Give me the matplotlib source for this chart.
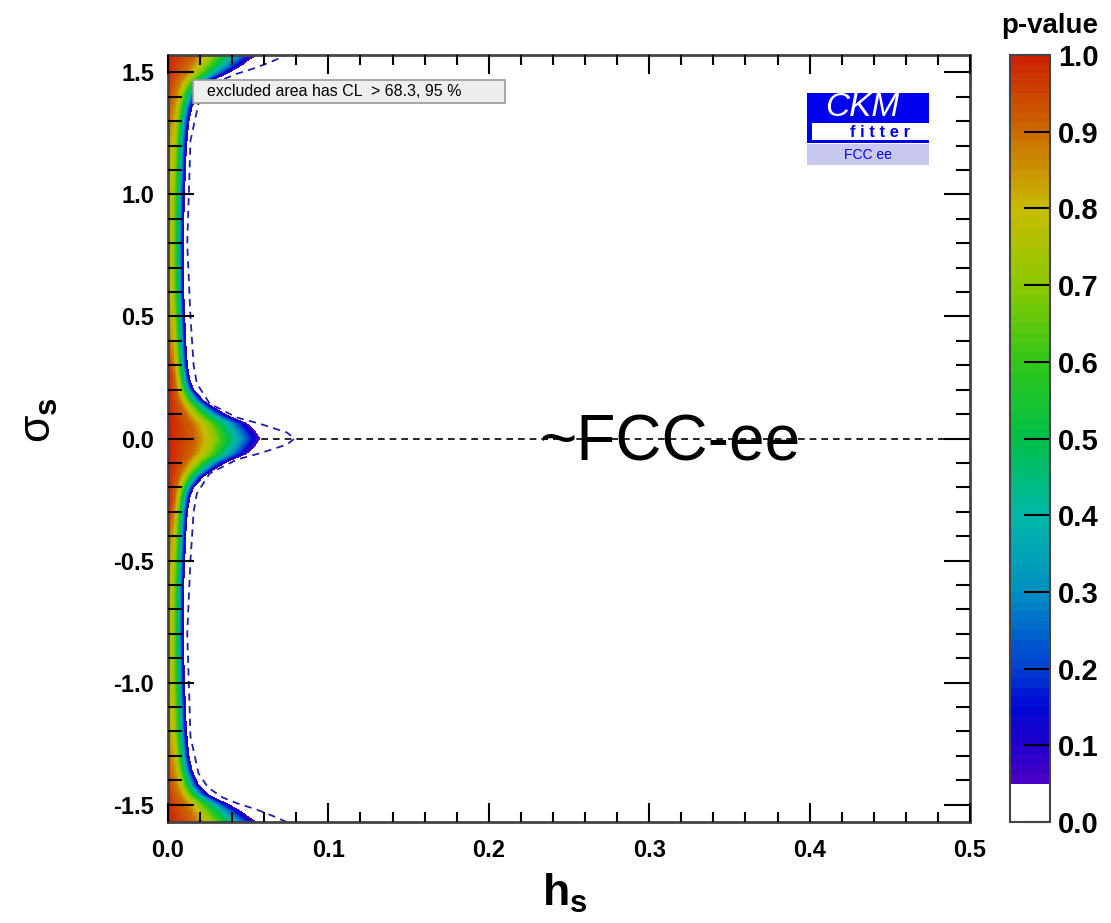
import numpy as np
import matplotlib
matplotlib.use("Agg")
import matplotlib.pyplot as plt
from matplotlib.colors import LinearSegmentedColormap, ListedColormap, BoundaryNorm
from matplotlib.patches import Rectangle

plt.rcParams['font.family'] = ['Liberation Sans', 'DejaVu Sans']
plt.rcParams['axes.unicode_minus'] = False
plt.rcParams['mathtext.fontset'] = 'custom'
plt.rcParams['mathtext.rm'] = 'Liberation Sans'
plt.rcParams['mathtext.bf'] = 'Liberation Sans:bold'
plt.rcParams['mathtext.it'] = 'Liberation Sans:italic'

# |sigma_s| where the edge of the allowed band was read (symmetric in sigma_s)
sig_edge = [0.0, 0.03, 0.061, 0.094, 0.125, 0.155, 0.2, 0.237, 0.3, 0.4, 0.6,
            0.8, 1.0, 1.2, 1.3, 1.36, 1.42, 1.46, 1.5, 1.53, 1.55, 1.571]
# h_s of the p = 0.05 edge
h_edge = [0.057, 0.054, 0.049, 0.037, 0.029, 0.022, 0.016, 0.0137, 0.012, 0.011,
          0.0098, 0.0096, 0.0102, 0.0115, 0.013, 0.015, 0.019, 0.025, 0.038,
          0.046, 0.050, 0.055]
# p-value at h_s = 0
sig_p0 = [0.0, 0.25, 0.4, 0.6, 0.9, 1.2, 1.4, 1.571]
p_at_zero = [1.0, 1.0, 0.9, 0.82, 0.8, 0.85, 0.95, 1.0]
# p-value profile across the band (fraction of edge width -> fraction of range)
prof_r = [0.0, 0.3, 0.5, 0.7, 0.85, 1.0, 1.5]
prof_g = [1.0, 0.9, 0.7, 0.42, 0.2, 0.0, -0.4]

# dashed contour (h_s vs |sigma_s|)
sig_dash = [0.0, 0.025, 0.061, 0.086, 0.143, 0.225, 0.3, 0.5, 0.8, 1.0, 1.22,
            1.371, 1.43, 1.47, 1.494, 1.519, 1.545, 1.571]
h_dash = [0.079, 0.074, 0.057, 0.043, 0.026, 0.018, 0.016, 0.014, 0.012, 0.013,
          0.014, 0.019, 0.025, 0.034, 0.043, 0.055, 0.065, 0.074]

x_major = [0.0, 0.1, 0.2, 0.3, 0.4, 0.5]
y_major = [-1.5, -1.0, -0.5, 0.0, 0.5, 1.0, 1.5]
cbar_ticks = [0.0, 0.1, 0.2, 0.3, 0.4, 0.5, 0.6, 0.7, 0.8, 0.9, 1.0]

# palette like the ROOT one in the reference
pal_pos = [0.05, 0.1, 0.15, 0.2, 0.3, 0.4, 0.5, 0.6, 0.7, 0.8, 0.9, 1.0]
pal_col = ['#4a00c4', '#2000cc', '#0008d4', '#0040d0', '#0090c4', '#00b8a8',
           '#00c048', '#30c818', '#8cc800', '#c8bc00', '#cc6c00', '#cc2000']

base = LinearSegmentedColormap.from_list(
    'ckm', [((p - 0.05) / 0.95, c) for p, c in zip(pal_pos, pal_col)])
levels = [0.0] + list(np.arange(0.05, 1.0001, 0.0125))
# below p = 0.05 nothing is painted
band_cols = [(1, 1, 1, 0)] + [base((0.5 * (levels[i] + levels[i + 1]) - 0.05) / 0.95)
                              for i in range(1, len(levels) - 1)]
cmap = ListedColormap(band_cols)
norm = BoundaryNorm(levels, cmap.N)

# build the p-value field from the read values
h = np.linspace(0, 0.5, 1201)
s = np.linspace(-np.pi / 2, np.pi / 2, 901)
H, S = np.meshgrid(h, s)
W = np.interp(np.abs(S), sig_edge, h_edge)
P0 = np.interp(np.abs(S), sig_p0, p_at_zero)
G = np.interp(H / W, prof_r, prof_g, right=-1.0)
P = np.clip(0.05 + (P0 - 0.05) * G, 0.0, 1.0)

fig = plt.figure(figsize=(11.11, 9.23), dpi=100)
ax = fig.add_axes([0.1512, 0.1094, 0.7219, 0.831])
cax = fig.add_axes([0.909, 0.1094, 0.036, 0.831])

ax.axhline(0.0, color='black', ls=(0, (4, 3)), lw=1.2, zorder=1)
cf = ax.contourf(H, S, P, levels=levels, cmap=cmap, norm=norm, zorder=1.5)

sd = np.concatenate([-np.array(sig_dash)[::-1], np.array(sig_dash)[1:]])
hd = np.concatenate([np.array(h_dash)[::-1], np.array(h_dash)[1:]])
ax.plot(hd, sd, color='#2020a0', ls=(0, (4, 3)), lw=1.3, zorder=2)

ax.set_xlim(0, 0.5)
ax.set_ylim(-np.pi / 2, np.pi / 2)
ax.set_xticks(x_major)
ax.set_xticks(np.arange(0.02, 0.5, 0.02), minor=True)
ax.set_yticks(y_major)
ax.set_yticks(np.arange(-1.5, 1.55, 0.1), minor=True)
ax.set_xticklabels(['%.1f' % v for v in x_major], fontsize=17, fontweight='bold')
ax.set_yticklabels(['%.1f' % v for v in y_major], fontsize=17, fontweight='bold')
ax.xaxis.set_tick_params(which='major', direction='in', length=14, width=1.5,
                         color='black', bottom=True, top=True, pad=12)
ax.xaxis.set_tick_params(which='minor', direction='in', length=7, width=1.5,
                         color='black', bottom=True, top=True)
ax.yaxis.set_tick_params(which='major', direction='in', length=19, width=1.5,
                         color='black', left=True, right=True, pad=10)
ax.yaxis.set_tick_params(which='minor', direction='in', length=10, width=1.5,
                         color='black', left=True, right=True)
ax.set_axisbelow(False)
for sp in ax.spines.values():
    sp.set_linewidth(2)
    sp.set_color('#444444')

ax.text(0.313, -0.02, '~FCC-ee', fontsize=46, ha='center', va='center', zorder=4)

# legend box
ax.add_patch(Rectangle((0.0312, 0.9374), 0.389, 0.030, transform=ax.transAxes,
                       facecolor='#eeeeee', edgecolor='#9a9a9a', lw=1.2, zorder=5))
ax.text(0.0486, 0.9524, 'excluded area has CL  > 68.3, 95 %', transform=ax.transAxes,
        fontsize=11.5, va='center', ha='left', zorder=6)

# CKMfitter logo
ax.add_patch(Rectangle((0.7968, 0.8853), 0.1521, 0.0652, transform=ax.transAxes,
                       facecolor='#0000ee', edgecolor='none', zorder=5))
ax.add_patch(Rectangle((0.803, 0.8892), 0.1459, 0.0221, transform=ax.transAxes,
                       facecolor='white', edgecolor='none', zorder=6))
ax.add_patch(Rectangle((0.7968, 0.8566), 0.1521, 0.0274, transform=ax.transAxes,
                       facecolor='#c8c8f0', edgecolor='none', zorder=5))
ax.text(0.8653, 0.9320, 'CKM', transform=ax.transAxes, fontsize=24, style='italic',
        color='white', ha='center', va='center', zorder=7)
ax.text(0.888, 0.8995, 'f i t t e r', transform=ax.transAxes, fontsize=12,
        fontweight='bold', color='#0000ee', ha='center', va='center', zorder=7)
ax.text(0.8728, 0.8700, 'FCC ee', transform=ax.transAxes, fontsize=10,
        color='#0000ee', ha='center', va='center', zorder=7)

cb = fig.colorbar(cf, cax=cax, ticks=cbar_ticks, spacing='proportional')
cb.outline.set_linewidth(1.5)
cb.outline.set_edgecolor('#444444')
cax.tick_params(which='major', direction='in', length=19, width=1.5, pad=6,
                right=True, left=False)
cax.tick_params(which='minor', length=0)
cax.set_yticklabels(['%.1f' % v for v in cbar_ticks], fontsize=21, fontweight='bold')

fig.text(0.945, 0.972, 'p-value', fontsize=20, fontweight='bold', ha='center', va='center')
fig.text(0.5086, 0.032, r'$\mathbf{h_s}$', fontsize=32, ha='center', va='center')
fig.text(0.036, 0.545, r'$\mathrm{\sigma}_\mathbf{s}$', fontsize=32, ha='center',
         va='center', rotation=90)

fig.savefig('out.png', dpi=100)
